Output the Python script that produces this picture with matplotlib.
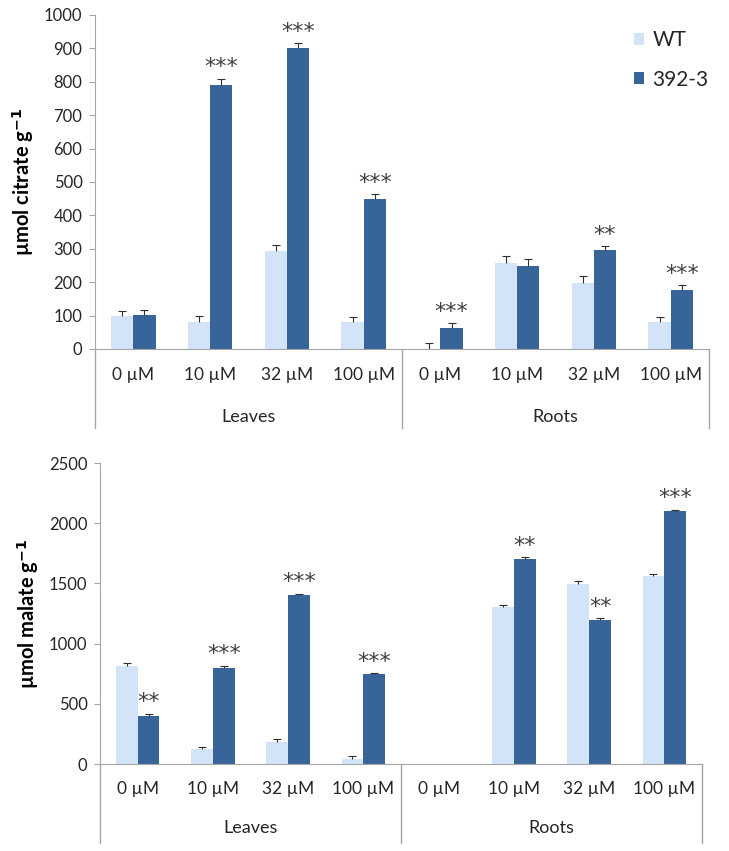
import matplotlib
matplotlib.use("Agg")
import matplotlib.pyplot as plt
import numpy as np
from matplotlib.patches import Patch
from matplotlib.transforms import blended_transform_factory

plt.rcParams['font.family'] = ['Lato', 'DejaVu Sans']

concs = ["0 µM", "10 µM", "32 µM", "100 µM"]
groups = ["Leaves", "Roots"]
series = ["WT", "392-3"]

citrate_wt = [98, 80, 294, 80, 0, 257, 197, 80]
citrate_wt_err = [17, 18, 18, 15, 18, 20, 22, 16]
citrate_mut = [102, 790, 901, 449, 62, 247, 295, 177]
citrate_mut_err = [16, 19, 14, 14, 15, 22, 12, 14]
citrate_sig = ["", "***", "***", "***", "***", "", "**", "***"]

malate_wt = [817, 122, 183, 44, np.nan, 1301, 1498, 1564]
malate_wt_err = [22, 22, 22, 22, np.nan, 17, 22, 14]
malate_mut = [401, 795, 1401, 750, np.nan, 1700, 1193, 2101]
malate_mut_err = [17, 22, 14, 6, np.nan, 19, 20, 11]
malate_sig = ["**", "***", "***", "***", "", "**", "**", "***"]

C_WT = "#D3E4F8"
C_MUT = "#386599"
AX_COL = "#A6A6A6"
TXT = "#262626"

fig = plt.figure(figsize=(7.29, 8.51), dpi=100)

def upper_err(ax, xs, ys, es):
    n = len(xs)
    eb = ax.errorbar(xs, ys, yerr=[np.zeros(n), es], fmt='none', ecolor='#303030',
                     elinewidth=0.8, capsize=2.8, capthick=0.8, zorder=3)
    caps = eb[1]
    if len(caps) == 2:
        caps[0].set_visible(False)

def panel(rect, wt, wte, mut, mute, sig, ylim, yticks, ylabel, line_depth, group_y, pad, legend=False):
    ax = fig.add_axes(rect)
    n = len(wt)
    x = np.arange(n)
    w = 0.29
    ax.bar(x - w / 2, wt, w, color=C_WT, zorder=2)
    ax.bar(x + w / 2, mut, w, color=C_MUT, zorder=2)
    upper_err(ax, x - w / 2, wt, wte)
    upper_err(ax, x + w / 2, mut, mute)
    for i in range(n):
        if sig[i]:
            top = mut[i] + mute[i]
            ax.annotate(sig[i], (x[i] + w / 2, top), xytext=(0, 1), textcoords='offset points',
                        ha='center', va='bottom', fontsize=16, color='#404040',
                        family='DejaVu Sans')
    ax.set_xlim(-0.5, n - 0.5)
    ax.set_ylim(*ylim)
    ax.set_yticks(yticks)
    ax.set_xticks(x)
    ax.set_xticklabels(concs * 2)
    ax.tick_params(axis='x', length=0, pad=pad, labelsize=12.5, labelcolor=TXT)
    ax.tick_params(axis='y', length=4, color=AX_COL, labelsize=12, labelcolor=TXT, pad=5)
    for s in ['top', 'right']:
        ax.spines[s].set_visible(False)
    ax.spines['left'].set_color(AX_COL)
    ax.spines['bottom'].set_color(AX_COL)
    ax.spines['left'].set_bounds(ylim[0], ylim[1])
    ax.set_ylabel(ylabel, fontsize=14.5, fontweight='bold', color='black', labelpad=6)
    tr = blended_transform_factory(ax.transData, ax.transAxes)
    for xd in [-0.5, 3.5, 7.5]:
        ax.plot([xd, xd], [0, -line_depth], transform=tr, color=AX_COL, lw=1, clip_on=False)
    for gi, g in enumerate(groups):
        ax.text(1.5 + 4 * gi, -group_y, g, transform=tr, ha='center', va='center',
                fontsize=13, color=TXT)
    if legend:
        handles = [Patch(facecolor=C_WT, label=series[0]), Patch(facecolor=C_MUT, label=series[1])]
        ax.legend(handles=handles, loc='upper right', bbox_to_anchor=(1.03, 1.01), frameon=False,
                  fontsize=15, handlelength=0.5, handleheight=0.5, handletextpad=0.4,
                  labelspacing=0.92, labelcolor=TXT)
    return ax

panel([0.1303, 0.5899, 0.8423, 0.3925], citrate_wt, citrate_wt_err, citrate_mut, citrate_mut_err,
      citrate_sig, (0, 1000), range(0, 1001, 100), "µmol citrate g$^{\\mathbf{-1}}$",
      0.2365, 0.2036, 13, legend=True)
panel([0.1372, 0.1022, 0.8258, 0.3537], malate_wt, malate_wt_err, malate_mut, malate_mut_err,
      malate_sig, (0, 2500), range(0, 2501, 500), "µmol malate g$^{\\mathbf{-1}}$",
      0.2625, 0.2126, 12)

fig.savefig("out.png", dpi=100)
